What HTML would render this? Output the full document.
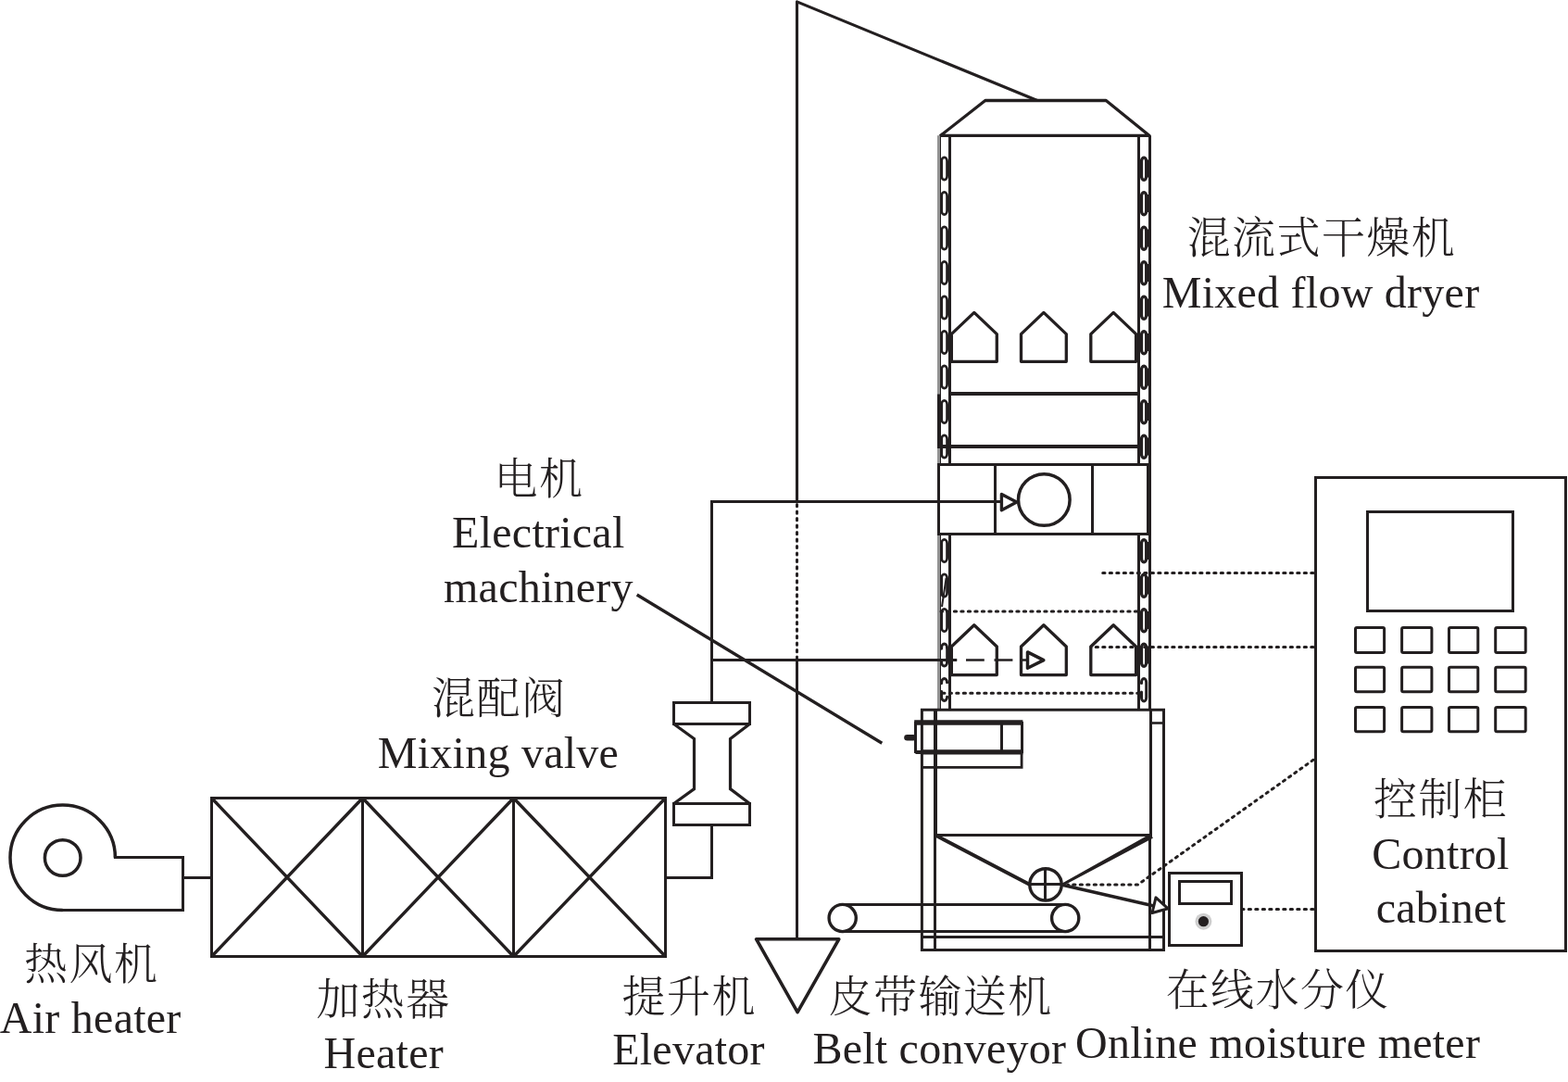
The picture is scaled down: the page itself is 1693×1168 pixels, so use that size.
<!DOCTYPE html>
<html lang="zh-CN">
<head>
<meta charset="utf-8">
<title>混流式干燥机 Mixed flow dryer</title>
<style>
html,body{margin:0;padding:0;background:#fff;}
body{width:1693px;height:1168px;overflow:hidden;font-family:"Liberation Serif","Noto Serif CJK SC",serif;}
svg{display:block;will-change:transform;}
</style>
</head>
<body>
<svg width="1693" height="1168" viewBox="0 0 1693 1168">
<rect x="0" y="0" width="1693" height="1168" fill="#ffffff"/>
<g id="fan">
<path d="M67.7 982.5 A56.7 56.7 0 1 1 124.4 925.8" stroke="#231f20" stroke-width="3.5" fill="none"/>
<path d="M124.4 925.5 L197.5 925.5 L197.5 982.5 L67.7 982.5" stroke="#231f20" stroke-width="3" fill="none" stroke-linejoin="miter" stroke-linecap="square"/>
<circle cx="67.7" cy="926" r="19.3" stroke="#231f20" stroke-width="3.5" fill="none"/>
<line x1="197.5" y1="947.5" x2="228.5" y2="947.5" stroke="#231f20" stroke-width="3" />
</g>
<g id="heater">
<rect x="228.5" y="861.5" width="490" height="171" stroke="#231f20" stroke-width="3" fill="none"/>
<path d="M228.5 861.5 L391.5 1032.5 M391.5 861.5 L228.5 1032.5" stroke="#231f20" stroke-width="3.4" fill="none"/>
<path d="M391.5 861.5 L554.5 1032.5 M554.5 861.5 L391.5 1032.5" stroke="#231f20" stroke-width="3.4" fill="none"/>
<path d="M554.5 861.5 L718.5 1032.5 M718.5 861.5 L554.5 1032.5" stroke="#231f20" stroke-width="3.4" fill="none"/>
<line x1="391.5" y1="861.5" x2="391.5" y2="1032.5" stroke="#231f20" stroke-width="3" />
<line x1="554.5" y1="861.5" x2="554.5" y2="1032.5" stroke="#231f20" stroke-width="3" />
</g>
<path d="M718.5 947.5 L768.5 947.5 L768.5 890.5" stroke="#231f20" stroke-width="3" fill="none"/>
<g id="valve">
<rect x="727.5" y="758.5" width="82" height="23" stroke="#231f20" stroke-width="3" fill="none"/>
<rect x="727.5" y="867.5" width="82" height="23" stroke="#231f20" stroke-width="3" fill="none"/>
<path d="M727.5 781.5 L749.5 797.5 L749.5 851.6 L727.5 867.5 M809.5 781.5 L788.5 797.5 L788.5 851.6 L809.5 867.5" stroke="#231f20" stroke-width="3.2" fill="none" stroke-linejoin="miter"/>
</g>
<g id="elevator">
<path d="M1120 108.5 L860.5 1.9 L860.5 541.5" stroke="#231f20" stroke-width="3.1" fill="none" stroke-linejoin="round"/>
<path d="M860.5 544.6 L860.5 711" stroke="#231f20" stroke-width="3.0" fill="none" stroke-linecap="round" stroke-dasharray="2.2 5.27"/>
<line x1="860.5" y1="712.5" x2="860.5" y2="1013.5" stroke="#231f20" stroke-width="3" />
<path d="M816.6 1013.8 L905.8 1013.8 L861.1 1092.6 Z" stroke="#231f20" stroke-width="3.6" fill="none" stroke-linejoin="round"/>
</g>
<line x1="687.7" y1="642" x2="952.3" y2="802.3" stroke="#231f20" stroke-width="3.4" />
<g id="dryer">
<path d="M1015.6 146.3 L1063.8 108.5 L1194.2 108.5 L1240.8 146.3 Z" stroke="#231f20" stroke-width="3.3" fill="none" stroke-linejoin="round"/>
<line x1="1013.5" y1="146.3" x2="1013.5" y2="766" stroke="#939393" stroke-width="3" />
<line x1="1015.5" y1="147" x2="1015.5" y2="766" stroke="#231f20" stroke-width="1" />
<line x1="1014" y1="425.5" x2="1014" y2="483" stroke="#231f20" stroke-width="4" />
<line x1="1025.5" y1="146.3" x2="1025.5" y2="501.5" stroke="#231f20" stroke-width="3" />
<line x1="1025.5" y1="576" x2="1025.5" y2="766" stroke="#231f20" stroke-width="3" />
<line x1="1229.5" y1="146.3" x2="1229.5" y2="501.5" stroke="#231f20" stroke-width="3" />
<line x1="1229.5" y1="576" x2="1229.5" y2="766" stroke="#231f20" stroke-width="3" />
<line x1="1241.5" y1="146.3" x2="1241.5" y2="766" stroke="#231f20" stroke-width="3" />
<rect x="1016.6" y="169.95" width="6" height="24.15" rx="3" ry="4.4" fill="none" stroke="#231f20" stroke-width="2.8"/>
<rect x="1232.5" y="170.15" width="5.2" height="24.15" rx="2.6" ry="4.2" fill="none" stroke="#231f20" stroke-width="3.3"/>
<line x1="1239.6" y1="172.55" x2="1239.6" y2="191.50" stroke="#231f20" stroke-width="1.2"/>
<rect x="1016.6" y="207.45" width="6" height="24.15" rx="3" ry="4.4" fill="none" stroke="#231f20" stroke-width="2.8"/>
<rect x="1232.5" y="207.65" width="5.2" height="24.15" rx="2.6" ry="4.2" fill="none" stroke="#231f20" stroke-width="3.3"/>
<line x1="1239.6" y1="210.05" x2="1239.6" y2="229.00" stroke="#231f20" stroke-width="1.2"/>
<rect x="1016.6" y="244.95" width="6" height="24.15" rx="3" ry="4.4" fill="none" stroke="#231f20" stroke-width="2.8"/>
<rect x="1232.5" y="245.15" width="5.2" height="24.15" rx="2.6" ry="4.2" fill="none" stroke="#231f20" stroke-width="3.3"/>
<line x1="1239.6" y1="247.55" x2="1239.6" y2="266.50" stroke="#231f20" stroke-width="1.2"/>
<rect x="1016.6" y="282.45" width="6" height="24.15" rx="3" ry="4.4" fill="none" stroke="#231f20" stroke-width="2.8"/>
<rect x="1232.5" y="282.65" width="5.2" height="24.15" rx="2.6" ry="4.2" fill="none" stroke="#231f20" stroke-width="3.3"/>
<line x1="1239.6" y1="285.05" x2="1239.6" y2="304.00" stroke="#231f20" stroke-width="1.2"/>
<rect x="1016.6" y="319.95" width="6" height="24.15" rx="3" ry="4.4" fill="none" stroke="#231f20" stroke-width="2.8"/>
<rect x="1232.5" y="320.15" width="5.2" height="24.15" rx="2.6" ry="4.2" fill="none" stroke="#231f20" stroke-width="3.3"/>
<line x1="1239.6" y1="322.55" x2="1239.6" y2="341.50" stroke="#231f20" stroke-width="1.2"/>
<rect x="1016.6" y="357.45" width="6" height="24.15" rx="3" ry="4.4" fill="none" stroke="#231f20" stroke-width="2.8"/>
<rect x="1232.5" y="357.65" width="5.2" height="24.15" rx="2.6" ry="4.2" fill="none" stroke="#231f20" stroke-width="3.3"/>
<line x1="1239.6" y1="360.05" x2="1239.6" y2="379.00" stroke="#231f20" stroke-width="1.2"/>
<rect x="1016.6" y="394.95" width="6" height="24.15" rx="3" ry="4.4" fill="none" stroke="#231f20" stroke-width="2.8"/>
<rect x="1232.5" y="395.15" width="5.2" height="24.15" rx="2.6" ry="4.2" fill="none" stroke="#231f20" stroke-width="3.3"/>
<line x1="1239.6" y1="397.55" x2="1239.6" y2="416.50" stroke="#231f20" stroke-width="1.2"/>
<rect x="1016.6" y="432.45" width="6" height="24.15" rx="3" ry="4.4" fill="none" stroke="#231f20" stroke-width="2.8"/>
<rect x="1232.5" y="432.65" width="5.2" height="24.15" rx="2.6" ry="4.2" fill="none" stroke="#231f20" stroke-width="3.3"/>
<line x1="1239.6" y1="435.05" x2="1239.6" y2="454.00" stroke="#231f20" stroke-width="1.2"/>
<rect x="1016.6" y="469.95" width="6" height="24.15" rx="3" ry="4.4" fill="none" stroke="#231f20" stroke-width="2.8"/>
<rect x="1232.5" y="470.15" width="5.2" height="24.15" rx="2.6" ry="4.2" fill="none" stroke="#231f20" stroke-width="3.3"/>
<line x1="1239.6" y1="472.55" x2="1239.6" y2="491.50" stroke="#231f20" stroke-width="1.2"/>
<rect x="1016.6" y="582.45" width="6" height="24.15" rx="3" ry="4.4" fill="none" stroke="#231f20" stroke-width="2.8"/>
<rect x="1232.5" y="582.65" width="5.2" height="24.15" rx="2.6" ry="4.2" fill="none" stroke="#231f20" stroke-width="3.3"/>
<line x1="1239.6" y1="585.05" x2="1239.6" y2="604.00" stroke="#231f20" stroke-width="1.2"/>
<rect x="1016.6" y="619.95" width="6" height="24.15" rx="3" ry="4.4" fill="none" stroke="#231f20" stroke-width="2.8"/>
<rect x="1232.5" y="620.15" width="5.2" height="24.15" rx="2.6" ry="4.2" fill="none" stroke="#231f20" stroke-width="3.3"/>
<line x1="1239.6" y1="622.55" x2="1239.6" y2="641.50" stroke="#231f20" stroke-width="1.2"/>
<rect x="1016.6" y="657.45" width="6" height="24.15" rx="3" ry="4.4" fill="none" stroke="#231f20" stroke-width="2.8"/>
<rect x="1232.5" y="657.65" width="5.2" height="24.15" rx="2.6" ry="4.2" fill="none" stroke="#231f20" stroke-width="3.3"/>
<line x1="1239.6" y1="660.05" x2="1239.6" y2="679.00" stroke="#231f20" stroke-width="1.2"/>
<path d="M1016.6 700.20 L1016.6 699.40 A3 4.4 0 0 1 1022.6 699.40" stroke="#231f20" stroke-width="2.9" fill="none" stroke-linecap="round"/>
<path d="M1016.6 713.85 L1016.6 714.65 A3 4.4 0 0 0 1022.6 714.65" stroke="#231f20" stroke-width="2.9" fill="none" stroke-linecap="round"/>
<path d="M1016.6 737.70 L1016.6 736.90 A3 4.4 0 0 1 1022.6 736.90" stroke="#231f20" stroke-width="2.9" fill="none" stroke-linecap="round"/>
<path d="M1016.6 746.55 L1016.6 752.15 A3 4.4 0 0 0 1022.6 752.15" stroke="#231f20" stroke-width="2.9" fill="none" stroke-linecap="round"/>
<line x1="1022.6" y1="698.55" x2="1022.6" y2="715.5" stroke="#231f20" stroke-width="2.8" />
<rect x="1232.5" y="695.15" width="5.2" height="24.15" rx="2.6" ry="4.2" fill="none" stroke="#231f20" stroke-width="3.3"/>
<line x1="1239.6" y1="697.55" x2="1239.6" y2="716.50" stroke="#231f20" stroke-width="1.2"/>
<path d="M1232.5 737.45 L1232.5 736.65 A2.6 4.2 0 0 1 1237.7 736.65 L1237.7 752.80 A2.6 4.2 0 0 1 1232.5 752.80 L1232.5 747.00" stroke="#231f20" stroke-width="3" fill="none" stroke-linecap="round"/>
<line x1="1021.6" y1="624" x2="1017" y2="655" stroke="#231f20" stroke-width="2" />
<path d="M1027.3 390.3 L1027.3 360.6 L1051.8 337.4 L1076.3 360.6 L1076.3 390.3 Z" stroke="#231f20" stroke-width="3.3" fill="none" stroke-linejoin="round"/>
<path d="M1102.5 390.3 L1102.5 360.6 L1126.9 337.4 L1151.3 360.6 L1151.3 390.3 Z" stroke="#231f20" stroke-width="3.3" fill="none" stroke-linejoin="round"/>
<path d="M1177.8 390.3 L1177.8 360.6 L1202.1999999999998 337.4 L1226.6 360.6 L1226.6 390.3 Z" stroke="#231f20" stroke-width="3.3" fill="none" stroke-linejoin="round"/>
<path d="M1027.3 728.6 L1027.3 698.0 L1051.8 674.8 L1076.3 698.0 L1076.3 728.6 Z" stroke="#231f20" stroke-width="3.3" fill="none" stroke-linejoin="round"/>
<path d="M1102.5 728.6 L1102.5 698.0 L1126.9 674.8 L1151.3 698.0 L1151.3 728.6 Z" stroke="#231f20" stroke-width="3.3" fill="none" stroke-linejoin="round"/>
<path d="M1177.8 728.6 L1177.8 698.0 L1202.1999999999998 674.8 L1226.6 698.0 L1226.6 728.6 Z" stroke="#231f20" stroke-width="3.3" fill="none" stroke-linejoin="round"/>
<line x1="1026.5" y1="362" x2="1026.5" y2="390.3" stroke="#231f20" stroke-width="5" />
<line x1="1228.5" y1="362" x2="1228.5" y2="390.3" stroke="#231f20" stroke-width="5" />
<line x1="1026.5" y1="700" x2="1026.5" y2="728.6" stroke="#231f20" stroke-width="5" />
<line x1="1228.5" y1="700" x2="1228.5" y2="728.6" stroke="#231f20" stroke-width="5" />
<line x1="1025.3" y1="425" x2="1229.6" y2="425" stroke="#231f20" stroke-width="4" />
<line x1="1012" y1="482" x2="1229.6" y2="482" stroke="#231f20" stroke-width="4" />
<rect x="1013.5" y="501.5" width="226" height="75" stroke="#231f20" stroke-width="3" fill="#fff"/>
<line x1="1074.5" y1="501.5" x2="1074.5" y2="576" stroke="#231f20" stroke-width="3" />
<line x1="1179.5" y1="501.5" x2="1179.5" y2="576" stroke="#231f20" stroke-width="3" />
<line x1="1241.5" y1="500" x2="1241.5" y2="578" stroke="#231f20" stroke-width="3" />
<line x1="768.5" y1="541.5" x2="1082" y2="541.5" stroke="#231f20" stroke-width="3" />
<circle cx="1127.3" cy="539.5" r="27.8" stroke="#231f20" stroke-width="3.5" fill="none"/>
<path d="M1081.4 533.5 L1097.7 542 L1081.4 550.7 Z" stroke="#231f20" stroke-width="3.4" fill="#fff" stroke-linejoin="round"/>
<path d="M1025 712.5 L1033.3 712.5 M1043 712.5 L1062.8 712.5 M1073.5 712.5 L1093.4 712.5 M1104 712.5 L1110 712.5" stroke="#231f20" stroke-width="2.6" fill="none"/>
<path d="M1109.5 703.9 L1126.8 712.6 L1109.5 721.2 Z" stroke="#231f20" stroke-width="3.5" fill="#fff" stroke-linejoin="round"/>
<path d="M1418 618.4 L1190 618.4" stroke="#231f20" stroke-width="3.0" fill="none" stroke-linecap="round" stroke-dasharray="2.3 5.2"/>
<path d="M1227.6 660 L1016 660" stroke="#231f20" stroke-width="3.0" fill="none" stroke-linecap="round" stroke-dasharray="2.3 5.2"/>
<path d="M1418 698.6 L1178 698.6" stroke="#231f20" stroke-width="3.0" fill="none" stroke-linecap="round" stroke-dasharray="2.3 5.2"/>
<path d="M1230 748.3 L1016 748.3" stroke="#231f20" stroke-width="3.0" fill="none" stroke-linecap="round" stroke-dasharray="2.3 5.2"/>
</g>
<path d="M768.5 758.5 L768.5 541.5 L1081 541.5" stroke="#231f20" stroke-width="3" fill="none"/>
<line x1="768.5" y1="712.5" x2="1033" y2="712.5" stroke="#231f20" stroke-width="3" />
<g id="base">
<path d="M995.4 1025.5 L995.4 766.3 L1256.5 766.3 L1256.5 1025.5 Z" stroke="#231f20" stroke-width="3" fill="none" stroke-linejoin="miter"/>
<line x1="1010" y1="766.3" x2="1010" y2="903" stroke="#231f20" stroke-width="4" />
<line x1="1009.5" y1="900" x2="1009.5" y2="1025.5" stroke="#231f20" stroke-width="3" />
<line x1="1242.5" y1="766.3" x2="1242.5" y2="903" stroke="#231f20" stroke-width="3" />
<line x1="1241.5" y1="900" x2="1241.5" y2="1025.5" stroke="#231f20" stroke-width="3" />
<line x1="1242.5" y1="780.5" x2="1256.6" y2="780.5" stroke="#231f20" stroke-width="2.6" />
<line x1="995.5" y1="1011.5" x2="1256.6" y2="1011.5" stroke="#231f20" stroke-width="3" />
<line x1="1009.9" y1="901.5" x2="1242.5" y2="901.5" stroke="#231f20" stroke-width="3" />
<line x1="1010.4" y1="901.8" x2="1113" y2="955.5" stroke="#231f20" stroke-width="3.9" />
<polygon points="1147.69,956.27 1244.89,904.67 1242.31,899.93 1146.31,953.73" fill="#231f20"/>
<circle cx="1129" cy="954.9" r="17.2" stroke="#231f20" stroke-width="3.4" fill="none"/>
<line x1="1112" y1="954.5" x2="1146" y2="954.5" stroke="#231f20" stroke-width="3" />
<line x1="1128.5" y1="938" x2="1128.5" y2="972" stroke="#231f20" stroke-width="3" />
<rect x="988.5" y="780.5" width="115" height="31" stroke="#231f20" stroke-width="3" fill="none"/>
<line x1="987.2" y1="780" x2="1104.4" y2="780" stroke="#231f20" stroke-width="5.3" />
<line x1="994" y1="811.9" x2="1104.4" y2="811.9" stroke="#231f20" stroke-width="5.3" />
<line x1="988.4" y1="812.5" x2="996" y2="812.5" stroke="#231f20" stroke-width="3" />
<line x1="1081.5" y1="780" x2="1081.5" y2="811.8" stroke="#231f20" stroke-width="3" />
<path d="M995.5 828.3 L1103.1 828.3 L1103.1 811.8" stroke="#231f20" stroke-width="2.8" fill="none"/>
<line x1="979.5" y1="796.2" x2="986" y2="796.2" stroke="#231f20" stroke-width="6.6" stroke-linecap="round"/>
</g>
<g id="conveyor">
<circle cx="909.7" cy="991.0" r="14.6" stroke="#231f20" stroke-width="3.4" fill="none"/>
<circle cx="1150.2" cy="991.0" r="14.6" stroke="#231f20" stroke-width="3.4" fill="none"/>
<line x1="909.7" y1="976.5" x2="1150.2" y2="976.5" stroke="#231f20" stroke-width="3" />
<line x1="909.7" y1="1005.5" x2="1150.2" y2="1005.5" stroke="#231f20" stroke-width="3" />
</g>
<g id="meter">
<line x1="1146" y1="955" x2="1246" y2="978" stroke="#231f20" stroke-width="3.4" />
<path d="M1248 968.8 L1244 985.5 L1261.2 980.8 Z" stroke="#231f20" stroke-width="3" fill="#fff" stroke-linejoin="round"/>
<rect x="1262.5" y="942.5" width="78" height="78" stroke="#231f20" stroke-width="3" fill="#fff"/>
<rect x="1273.5" y="951.5" width="56" height="24" stroke="#231f20" stroke-width="3" fill="none"/>
<circle cx="1299.4" cy="994.7" r="9" fill="#cfcfcf"/>
<circle cx="1299.4" cy="994.7" r="5.6" fill="#231f20"/>
<path d="M1418 820.3 L1228.5 955 L1153 955" stroke="#231f20" stroke-width="3.0" fill="none" stroke-linecap="round" stroke-dasharray="2.3 5.2"/>
<path d="M1418 981.5 L1342 981.5" stroke="#231f20" stroke-width="3.0" fill="none" stroke-linecap="round" stroke-dasharray="2.3 5.2"/>
</g>
<g id="cabinet">
<rect x="1420.5" y="515.5" width="270" height="511" stroke="#231f20" stroke-width="3" fill="none"/>
<rect x="1476.5" y="552.5" width="157" height="107" stroke="#231f20" stroke-width="3" fill="none"/>
<rect x="1463.5" y="677.6" width="31.1" height="26.8" rx="1.5" ry="1.5" fill="none" stroke="#231f20" stroke-width="3"/>
<rect x="1513.6" y="677.6" width="32.3" height="26.8" rx="1.5" ry="1.5" fill="none" stroke="#231f20" stroke-width="3"/>
<rect x="1564.5" y="677.6" width="31.3" height="26.8" rx="1.5" ry="1.5" fill="none" stroke="#231f20" stroke-width="3"/>
<rect x="1614.7" y="677.6" width="32.5" height="26.8" rx="1.5" ry="1.5" fill="none" stroke="#231f20" stroke-width="3"/>
<rect x="1463.5" y="720.3" width="31.1" height="26.5" rx="1.5" ry="1.5" fill="none" stroke="#231f20" stroke-width="3"/>
<rect x="1513.6" y="720.3" width="32.3" height="26.5" rx="1.5" ry="1.5" fill="none" stroke="#231f20" stroke-width="3"/>
<rect x="1564.5" y="720.3" width="31.3" height="26.5" rx="1.5" ry="1.5" fill="none" stroke="#231f20" stroke-width="3"/>
<rect x="1614.7" y="720.3" width="32.5" height="26.5" rx="1.5" ry="1.5" fill="none" stroke="#231f20" stroke-width="3"/>
<rect x="1463.5" y="763.6" width="31.1" height="26.1" rx="1.5" ry="1.5" fill="none" stroke="#231f20" stroke-width="3"/>
<rect x="1513.6" y="763.6" width="32.3" height="26.1" rx="1.5" ry="1.5" fill="none" stroke="#231f20" stroke-width="3"/>
<rect x="1564.5" y="763.6" width="31.3" height="26.1" rx="1.5" ry="1.5" fill="none" stroke="#231f20" stroke-width="3"/>
<rect x="1614.7" y="763.6" width="32.5" height="26.1" rx="1.5" ry="1.5" fill="none" stroke="#231f20" stroke-width="3"/>
</g>
<g id="labels">
<text x="98.7" y="1057" text-anchor="middle" fill="#231f20" font-family="'Liberation Serif', 'Noto Serif CJK SC', serif" font-size="47" font-weight="300" letter-spacing="1.4">热风机</text>
<text x="97.7" y="1115.2" text-anchor="middle" fill="#231f20" font-family="'Liberation Serif', 'Noto Serif CJK SC', serif" font-size="48" letter-spacing="0.25">Air heater</text>
<text x="414" y="1095" text-anchor="middle" fill="#231f20" font-family="'Liberation Serif', 'Noto Serif CJK SC', serif" font-size="47" font-weight="300" letter-spacing="1.4">加热器</text>
<text x="414.3" y="1152.8" text-anchor="middle" fill="#231f20" font-family="'Liberation Serif', 'Noto Serif CJK SC', serif" font-size="48" letter-spacing="0.25">Heater</text>
<text x="538.7" y="770" text-anchor="middle" fill="#231f20" font-family="'Liberation Serif', 'Noto Serif CJK SC', serif" font-size="47" font-weight="300" letter-spacing="1.4">混配阀</text>
<text x="538" y="828.7" text-anchor="middle" fill="#231f20" font-family="'Liberation Serif', 'Noto Serif CJK SC', serif" font-size="48" letter-spacing="0.25">Mixing valve</text>
<text x="582" y="533.2" text-anchor="middle" fill="#231f20" font-family="'Liberation Serif', 'Noto Serif CJK SC', serif" font-size="47" font-weight="300" letter-spacing="1.4">电机</text>
<text x="581.3" y="590.8" text-anchor="middle" fill="#231f20" font-family="'Liberation Serif', 'Noto Serif CJK SC', serif" font-size="48" letter-spacing="0.25">Electrical</text>
<text x="581.4" y="650.1" text-anchor="middle" fill="#231f20" font-family="'Liberation Serif', 'Noto Serif CJK SC', serif" font-size="48" letter-spacing="0.25">machinery</text>
<text x="744.2" y="1091.5" text-anchor="middle" fill="#231f20" font-family="'Liberation Serif', 'Noto Serif CJK SC', serif" font-size="47" font-weight="300" letter-spacing="1.4">提升机</text>
<text x="743.5" y="1148.5" text-anchor="middle" fill="#231f20" font-family="'Liberation Serif', 'Noto Serif CJK SC', serif" font-size="48" letter-spacing="0.25">Elevator</text>
<text x="1015.6" y="1091.5" text-anchor="middle" fill="#231f20" font-family="'Liberation Serif', 'Noto Serif CJK SC', serif" font-size="47" font-weight="300" letter-spacing="1.4">皮带输送机</text>
<text x="1014.3" y="1148.1" text-anchor="middle" fill="#231f20" font-family="'Liberation Serif', 'Noto Serif CJK SC', serif" font-size="48" letter-spacing="0.25">Belt conveyor</text>
<text x="1379.7" y="1084.5" text-anchor="middle" fill="#231f20" font-family="'Liberation Serif', 'Noto Serif CJK SC', serif" font-size="47" font-weight="300" letter-spacing="1.4">在线水分仪</text>
<text x="1379.6" y="1141.9" text-anchor="middle" fill="#231f20" font-family="'Liberation Serif', 'Noto Serif CJK SC', serif" font-size="48" letter-spacing="0.25">Online moisture meter</text>
<text x="1555.6" y="879" text-anchor="middle" fill="#231f20" font-family="'Liberation Serif', 'Noto Serif CJK SC', serif" font-size="47" font-weight="300" letter-spacing="1.4">控制柜</text>
<text x="1555.5" y="938.3" text-anchor="middle" fill="#231f20" font-family="'Liberation Serif', 'Noto Serif CJK SC', serif" font-size="48" letter-spacing="0.25">Control</text>
<text x="1555.9" y="996.1" text-anchor="middle" fill="#231f20" font-family="'Liberation Serif', 'Noto Serif CJK SC', serif" font-size="48" letter-spacing="0.25">cabinet</text>
<text x="1426.9" y="273.3" text-anchor="middle" fill="#231f20" font-family="'Liberation Serif', 'Noto Serif CJK SC', serif" font-size="47" font-weight="300" letter-spacing="1.4">混流式干燥机</text>
<text x="1426.1" y="332.3" text-anchor="middle" fill="#231f20" font-family="'Liberation Serif', 'Noto Serif CJK SC', serif" font-size="48" letter-spacing="0.25">Mixed flow dryer</text>
</g>
</svg>
</body>
</html>
